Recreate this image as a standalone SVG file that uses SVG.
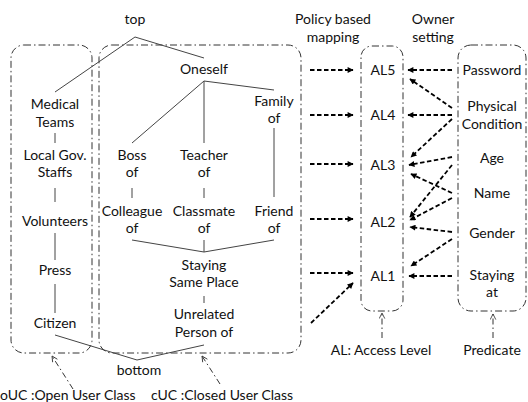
<svg xmlns="http://www.w3.org/2000/svg" width="528" height="402" viewBox="0 0 528 402">
<defs>
<style>
text{font-family:Lato,"Liberation Sans",sans-serif;font-size:14px;fill:#111;text-anchor:middle}
.box{fill:none;stroke:#333;stroke-width:1;stroke-dasharray:7 3 1.5 3}
.h{stroke:#444;stroke-width:1;fill:none}
.a{stroke:#000;stroke-width:1.8;stroke-dasharray:4.5 2.5;fill:none;marker-end:url(#ah)}
.p{stroke:#333;stroke-width:1;stroke-dasharray:6 3 1.5 3;fill:none;marker-end:url(#oh)}
</style>
<marker id="ah" viewBox="0 0 10 10" refX="9" refY="5" markerWidth="7" markerHeight="6" markerUnits="userSpaceOnUse" orient="auto">
<path d="M0,0 L10,5 L0,10 z" fill="#000"/>
</marker>
<marker id="oh" viewBox="0 0 10 10" refX="9" refY="5" markerWidth="7" markerHeight="7" markerUnits="userSpaceOnUse" orient="auto">
<path d="M1,1 L9,5 L1,9" fill="none" stroke="#333" stroke-width="1.2"/>
</marker>
</defs>
<rect width="528" height="402" fill="#fff"/>

<g id="oUC-box"><rect class="box" x="11" y="45" width="81" height="308" rx="13"/></g>
<g id="cUC-box"><rect class="box" x="99" y="45" width="202" height="308" rx="13"/></g>
<g id="AL-box"><rect class="box" x="361" y="46" width="42" height="265" rx="11"/></g>
<g id="pred-box"><rect class="box" x="458" y="45" width="68" height="266" rx="13"/></g>

<g id="top"><text x="135" y="24">top</text></g>
<g id="bottom"><text x="139" y="375">bottom</text></g>
<g id="medical"><text x="55" y="109">Medical</text><text x="55" y="127">Teams</text></g>
<g id="localgov"><text x="55" y="160">Local Gov.</text><text x="55" y="177">Staffs</text></g>
<g id="volunteers"><text x="55" y="226">Volunteers</text></g>
<g id="press"><text x="55" y="275">Press</text></g>
<g id="citizen"><text x="55" y="328">Citizen</text></g>
<g id="oneself"><text x="204" y="74">Oneself</text></g>
<g id="family"><text x="274" y="106">Family</text><text x="274" y="123">of</text></g>
<g id="boss"><text x="132" y="160">Boss</text><text x="132" y="177">of</text></g>
<g id="teacher"><text x="204" y="160">Teacher</text><text x="204" y="177">of</text></g>
<g id="colleague"><text x="132" y="216">Colleague</text><text x="132" y="233">of</text></g>
<g id="classmate"><text x="204" y="216">Classmate</text><text x="204" y="233">of</text></g>
<g id="friend"><text x="274" y="216">Friend</text><text x="274" y="233">of</text></g>
<g id="staying-same"><text x="204" y="270">Staying</text><text x="204" y="287">Same Place</text></g>
<g id="unrelated"><text x="204" y="319">Unrelated</text><text x="204" y="337">Person of</text></g>

<g id="policy-label"><text x="333" y="24">Policy based</text><text x="333" y="42">mapping</text></g>
<g id="owner-label"><text x="433" y="24">Owner</text><text x="433" y="42">setting</text></g>
<g id="al5"><text x="383" y="75">AL5</text></g>
<g id="al4"><text x="383" y="120">AL4</text></g>
<g id="al3"><text x="383" y="170">AL3</text></g>
<g id="al2"><text x="383" y="227">AL2</text></g>
<g id="al1"><text x="383" y="281">AL1</text></g>
<g id="password"><text x="492" y="75">Password</text></g>
<g id="physical"><text x="492" y="111">Physical</text><text x="492" y="129">Condition</text></g>
<g id="age"><text x="492" y="163">Age</text></g>
<g id="name"><text x="492" y="198">Name</text></g>
<g id="gender"><text x="492" y="238">Gender</text></g>
<g id="stayingat"><text x="492" y="280">Staying</text><text x="492" y="297">at</text></g>

<g id="oUC-label"><text x="0" y="400" style="text-anchor:start">oUC :Open User Class</text></g>
<g id="cUC-label"><text x="151" y="400" style="text-anchor:start">cUC :Closed User Class</text></g>
<g id="AL-label"><text x="381" y="355">AL: Access Level</text></g>
<g id="pred-label"><text x="492" y="355">Predicate</text></g>

<g id="connectors">
<polyline class="h" points="55,92 135,37 204,58"/>
<line class="h" x1="204" y1="81" x2="132" y2="143"/>
<line class="h" x1="204" y1="81" x2="204" y2="143"/>
<line class="h" x1="204" y1="81" x2="274" y2="90"/>
<line class="h" x1="132" y1="188" x2="132" y2="198"/>
<line class="h" x1="204" y1="188" x2="204" y2="198"/>
<line class="h" x1="274" y1="128" x2="274" y2="197"/>
<line class="h" x1="55" y1="133" x2="55" y2="143"/>
<line class="h" x1="55" y1="188" x2="55" y2="202"/>
<line class="h" x1="55" y1="233" x2="55" y2="260"/>
<line class="h" x1="55" y1="284" x2="55" y2="313"/>
<polyline class="h" points="132,240 204,252 274,240"/>
<line class="h" x1="204" y1="240" x2="204" y2="252"/>
<line class="h" x1="204" y1="296" x2="204" y2="303"/>
<polyline class="h" points="55,335 137,360 204,345"/>

<line class="a" x1="310" y1="70" x2="353" y2="70"/>
<line class="a" x1="310" y1="115" x2="353" y2="115"/>
<line class="a" x1="310" y1="164" x2="353" y2="164"/>
<line class="a" x1="310" y1="219" x2="353" y2="219"/>
<line class="a" x1="310" y1="273" x2="353" y2="273"/>
<line class="a" x1="311" y1="323" x2="353" y2="283"/>

<line class="a" x1="452" y1="70" x2="408" y2="70"/>
<line class="a" x1="452" y1="108" x2="410" y2="79"/>
<line class="a" x1="452" y1="115" x2="408" y2="115"/>
<line class="a" x1="452" y1="119" x2="411" y2="157"/>
<line class="a" x1="452" y1="157" x2="409" y2="165"/>
<line class="a" x1="452" y1="193" x2="411" y2="174"/>
<line class="a" x1="452" y1="165" x2="410" y2="217"/>
<line class="a" x1="452" y1="198" x2="410" y2="220"/>
<line class="a" x1="452" y1="232" x2="410" y2="227"/>
<line class="a" x1="452" y1="239" x2="411" y2="266"/>
<line class="a" x1="452" y1="276" x2="409" y2="276"/>

<line class="p" x1="73" y1="389" x2="52" y2="356"/>
<line class="p" x1="220" y1="384" x2="202" y2="356"/>
<line class="p" x1="382" y1="338" x2="382" y2="313"/>
<line class="p" x1="493" y1="338" x2="493" y2="314"/>
</g>
</svg>
